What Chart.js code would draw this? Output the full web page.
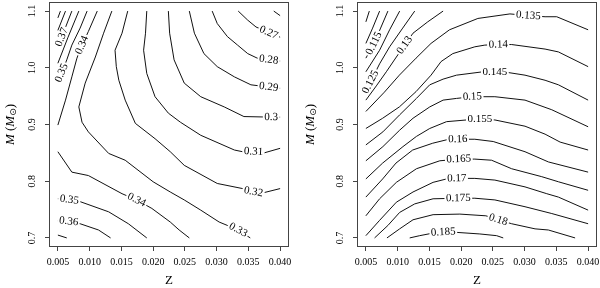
<!DOCTYPE html>
<html>
<head>
<meta charset="utf-8">
<script src="https://cdn.jsdelivr.net/npm/chart.js@4.4.1/dist/chart.umd.min.js"></script>
<style>
  html, body { margin: 0; padding: 0; background: #fff; overflow: hidden; }
  #wrap { position: relative; width: 600px; height: 288px; overflow: hidden; }
  canvas { position: absolute; top: 0; }
  #left { left: 0; }
  #right { left: 300px; }
</style>
</head>
<body>
<div id="wrap">
  <canvas id="left" width="320" height="288"></canvas>
  <canvas id="right" width="320" height="288"></canvas>
</div>
<script>
const X_TICKS = [0.005, 0.010, 0.015, 0.020, 0.025, 0.030, 0.035, 0.040];
const Y_TICKS = [0.7, 0.8, 0.9, 1.0, 1.1];
const X_RANGE = [0.0036, 0.0414];
const Y_RANGE = [0.684, 1.116];

// left panel contours, [Z, M] vertices
const L26 = [[0.0390, 1.100], [0.0400, 1.092]];
const L27 = [[0.0334, 1.100], [0.0349, 1.084], [0.0362, 1.072], [0.0382, 1.062], [0.0400, 1.054]];
const L28 = [[0.0293, 1.100], [0.0301, 1.078], [0.0317, 1.055], [0.0333, 1.040], [0.0349, 1.025], [0.0364, 1.017], [0.0382, 1.014], [0.0400, 1.012]];
const L29 = [[0.0257, 1.100], [0.0265, 1.061], [0.0280, 1.025], [0.0301, 1.002], [0.0328, 0.984], [0.0354, 0.970], [0.0382, 0.966], [0.0400, 0.964]];
const L30 = [[0.0224, 1.100], [0.0226, 1.061], [0.0233, 1.014], [0.0249, 0.973], [0.0275, 0.949], [0.0312, 0.931], [0.0343, 0.914], [0.0386, 0.913], [0.0400, 0.913]];
const L31 = [[0.0190, 1.100], [0.0188, 1.061], [0.0185, 1.031], [0.0190, 0.990], [0.0203, 0.949], [0.0224, 0.920], [0.0243, 0.904], [0.0275, 0.881], [0.0328, 0.855], [0.0341, 0.852], [0.0358, 0.852], [0.0375, 0.850], [0.0400, 0.858]];
const L32 = [[0.0160, 1.100], [0.0151, 1.061], [0.0140, 1.031], [0.0142, 1.002], [0.0146, 0.978], [0.0156, 0.943], [0.0172, 0.902], [0.0203, 0.875], [0.0227, 0.852], [0.0249, 0.828], [0.0301, 0.796], [0.0341, 0.787], [0.0358, 0.781], [0.0375, 0.780], [0.0400, 0.787]];
const L33 = [[0.0135, 1.100], [0.0122, 1.061], [0.0109, 1.019], [0.0093, 0.973], [0.0083, 0.931], [0.0088, 0.904], [0.0098, 0.887], [0.0130, 0.849], [0.0156, 0.837], [0.0200, 0.799], [0.0227, 0.781], [0.0249, 0.767], [0.0275, 0.749], [0.0304, 0.728], [0.0317, 0.722], [0.0334, 0.714], [0.0353, 0.700]];
const L34A = [[0.0112, 1.100], [0.0098, 1.064], [0.0088, 1.040], [0.0080, 1.017], [0.0072, 0.984], [0.0062, 0.943], [0.0050, 0.899]];
const L34B = [[0.0050, 0.852], [0.0072, 0.816], [0.0098, 0.810], [0.0151, 0.778], [0.0174, 0.767], [0.0198, 0.752], [0.0227, 0.728], [0.0241, 0.714], [0.0257, 0.700]];
const L35A = [[0.0096, 1.100], [0.0085, 1.070], [0.0072, 1.040], [0.0064, 1.014], [0.0056, 0.991], [0.0050, 0.975]];
const L35B = [[0.0050, 0.769], [0.0068, 0.767], [0.0085, 0.764], [0.0130, 0.746], [0.0161, 0.725], [0.0190, 0.700]];
const L36A = [[0.0083, 1.100], [0.0066, 1.054], [0.0050, 1.008]];
const L36B = [[0.0050, 0.730], [0.0067, 0.729], [0.0085, 0.725], [0.0114, 0.714], [0.0133, 0.700]];
const L37A = [[0.0072, 1.100], [0.0056, 1.054], [0.0050, 1.037]];
const L37B = [[0.0050, 0.705], [0.0064, 0.700]];
const L38 = [[0.0062, 1.100], [0.0050, 1.066]];
const L39 = [[0.0054, 1.100], [0.0050, 1.088]];

// right panel contours
const R105 = [[0.00554, 1.100], [0.0050, 1.081]];
const R110 = [[0.00716, 1.100], [0.00606, 1.070], [0.0050, 1.043]];
const R115 = [[0.00847, 1.100], [0.00732, 1.070], [0.00629, 1.043], [0.0050, 1.017]];
const R120 = [[0.01032, 1.100], [0.00874, 1.067], [0.00716, 1.031], [0.0050, 0.993]];
const R125 = [[0.01269, 1.100], [0.0108, 1.070], [0.00874, 1.037], [0.00716, 1.007], [0.00574, 0.975], [0.0050, 0.959]];
const R130 = [[0.01716, 1.100], [0.01474, 1.081], [0.01242, 1.061], [0.01111, 1.040], [0.0098, 1.019], [0.00822, 0.993], [0.00664, 0.968], [0.0050, 0.943]];
const R135 = [[0.040, 1.067], [0.03506, 1.090], [0.03322, 1.090], [0.03058, 1.092], [0.02769, 1.095], [0.02264, 1.087], [0.01817, 1.067], [0.01526, 1.043], [0.0129, 1.017], [0.01027, 0.987], [0.00791, 0.957], [0.0050, 0.923]];
const R140 = [[0.040, 1.002], [0.03532, 1.028], [0.03322, 1.033], [0.02796, 1.041], [0.02584, 1.041], [0.02374, 1.040], [0.02216, 1.037], [0.01869, 1.025], [0.01684, 1.011], [0.01526, 0.987], [0.0129, 0.958], [0.01027, 0.931], [0.00764, 0.911], [0.0050, 0.893]];
const R145 = [[0.040, 0.943], [0.03532, 0.970], [0.03322, 0.978], [0.03006, 0.987], [0.02663, 0.993], [0.02532, 0.993], [0.02347, 0.993], [0.01927, 0.987], [0.01716, 0.980], [0.01506, 0.970], [0.01296, 0.946], [0.01032, 0.917], [0.00768, 0.887], [0.0050, 0.864]];
const R150 = [[0.040, 0.896], [0.03428, 0.926], [0.03006, 0.943], [0.02532, 0.949], [0.02177, 0.949], [0.01927, 0.946], [0.01716, 0.943], [0.01506, 0.931], [0.01242, 0.911], [0.01032, 0.890], [0.00768, 0.861], [0.0050, 0.836]];
const R155 = [[0.040, 0.855], [0.03559, 0.869], [0.03322, 0.883], [0.03006, 0.897], [0.02532, 0.908], [0.02295, 0.909], [0.02085, 0.908], [0.0177, 0.905], [0.01506, 0.893], [0.01296, 0.879], [0.01084, 0.861], [0.00764, 0.832], [0.0050, 0.804]];
const R160 = [[0.040, 0.816], [0.03374, 0.834], [0.03006, 0.852], [0.02505, 0.870], [0.02216, 0.874], [0.01948, 0.874], [0.0177, 0.873], [0.01553, 0.867], [0.01237, 0.855], [0.00974, 0.832], [0.00764, 0.804], [0.0050, 0.772]];
const R165 = [[0.040, 0.784], [0.03532, 0.799], [0.0327, 0.808], [0.02796, 0.822], [0.0248, 0.837], [0.02216, 0.839], [0.01964, 0.839], [0.01664, 0.836], [0.01296, 0.822], [0.0098, 0.798], [0.00716, 0.769], [0.0050, 0.739]];
const R170 = [[0.040, 0.749], [0.03532, 0.772], [0.03349, 0.778], [0.03006, 0.790], [0.02532, 0.802], [0.02216, 0.805], [0.01932, 0.805], [0.0177, 0.804], [0.01558, 0.798], [0.01242, 0.781], [0.0098, 0.763], [0.00716, 0.731], [0.0050, 0.704]];
const R175 = [[0.040, 0.725], [0.03428, 0.743], [0.03006, 0.755], [0.02532, 0.767], [0.02216, 0.770], [0.01956, 0.770], [0.01558, 0.769], [0.01269, 0.760], [0.01032, 0.745], [0.00847, 0.722], [0.00637, 0.700]];
const R180 = [[0.03795, 0.700], [0.03374, 0.714], [0.03164, 0.716], [0.02796, 0.725], [0.02584, 0.732], [0.0239, 0.739], [0.0198, 0.742], [0.01558, 0.741], [0.01242, 0.732], [0.01032, 0.716], [0.00832, 0.700]];
const R185 = [[0.0119, 0.700], [0.01348, 0.704], [0.01533, 0.708], [0.01719, 0.710], [0.01901, 0.710], [0.02295, 0.707], [0.02559, 0.704], [0.02663, 0.700]];

const LEFT_LINES = [
  { level: "0.26", pts: L26 },
  { level: "0.27", pts: L27, at: 3 },
  { level: "0.28", pts: L28, at: 6 },
  { level: "0.29", pts: L29, at: 6 },
  { level: "0.3", pts: L30, at: 7 },
  { level: "0.31", pts: L31, at: 10 },
  { level: "0.32", pts: L32, at: 12 },
  { level: "0.33", pts: L33, at: 15 },
  { level: "0.34", pts: L34A, at: 2 },
  { level: "0.34", pts: L34B, at: 4 },
  { level: "0.35", pts: L35A, at: 4 },
  { level: "0.35", pts: L35B, at: 1 },
  { level: "0.36", pts: L36A },
  { level: "0.36", pts: L36B, at: 1 },
  { level: "0.37", pts: L37A, at: 1 },
  { level: "0.37", pts: L37B },
  { level: "0.38", pts: L38 },
  { level: "0.39", pts: L39 },
];

const RIGHT_LINES = [
  { level: "0.105", pts: R105 },
  { level: "0.11", pts: R110 },
  { level: "0.115", pts: R115, at: 2 },
  { level: "0.12", pts: R120 },
  { level: "0.125", pts: R125, at: 4 },
  { level: "0.13", pts: R130, at: 3 },
  { level: "0.135", pts: R135, at: 3 },
  { level: "0.14", pts: R140, at: 4 },
  { level: "0.145", pts: R145, at: 5 },
  { level: "0.15", pts: R150, at: 4 },
  { level: "0.155", pts: R155, at: 5 },
  { level: "0.16", pts: R160, at: 5 },
  { level: "0.165", pts: R165, at: 6 },
  { level: "0.17", pts: R170, at: 6 },
  { level: "0.175", pts: R175, at: 5 },
  { level: "0.18", pts: R180, at: 4 },
  { level: "0.185", pts: R185, at: 3 },
];

const SERIF = "'Liberation Serif', 'DejaVu Serif', serif";
const LABEL_FONT = "11px " + SERIF;

function labelSpot(chart, line) {
  const xs = chart.scales.x, ys = chart.scales.y;
  const p = line.pts.map(([z, m]) => [xs.getPixelForValue(z), ys.getPixelForValue(m)]);
  const i = line.at;
  const a = p[Math.max(i - 1, 0)];
  const b = p[Math.min(i + 1, p.length - 1)];
  let ang = Math.atan2(b[1] - a[1], b[0] - a[0]);
  if (ang > Math.PI / 2) ang -= Math.PI;
  if (ang < -Math.PI / 2) ang += Math.PI;
  return { x: p[i][0], y: p[i][1], ang };
}

function drawYTitle(ctx, x, y) {
  const parts = [
    { t: "M", f: "italic 13px " + SERIF, dy: 0 },
    { t: " (", f: "13px " + SERIF, dy: 0 },
    { t: "M", f: "italic 13px " + SERIF, dy: 0 },
    { t: "\u2299", f: "9px 'DejaVu Sans', sans-serif", dy: 3 },
    { t: ")", f: "13px " + SERIF, dy: 0 },
  ];
  let total = 0;
  parts.forEach((p) => { ctx.font = p.f; p.w = ctx.measureText(p.t).width; total += p.w; });
  ctx.save();
  ctx.translate(x, y);
  ctx.rotate(-Math.PI / 2);
  ctx.textAlign = "left";
  ctx.textBaseline = "middle";
  let cx = -total / 2;
  parts.forEach((p) => { ctx.font = p.f; ctx.fillText(p.t, cx, p.dy); cx += p.w; });
  ctx.restore();
}

function makePanel(canvasId, lines, yWidth, padRight) {
  const panelPlugin = {
    id: "panel" + canvasId,
    beforeDatasetDraw(chart, args) {
      const ctx = chart.ctx;
      ctx.save();
      const line = lines[args.index];
      if (line.at === undefined) return;
      // cut a gap in this line only, where its label goes
      const g = labelSpot(chart, line);
      ctx.font = LABEL_FONT;
      const w = ctx.measureText(line.level).width / 2 + 1.5;
      const h = 4.5;
      const c = Math.cos(g.ang), s = Math.sin(g.ang);
      ctx.beginPath();
      ctx.rect(0, 0, chart.width, chart.height);
      ctx.moveTo(g.x - w * c + h * s, g.y - w * s - h * c);
      ctx.lineTo(g.x + w * c + h * s, g.y + w * s - h * c);
      ctx.lineTo(g.x + w * c - h * s, g.y + w * s + h * c);
      ctx.lineTo(g.x - w * c - h * s, g.y - w * s + h * c);
      ctx.closePath();
      ctx.clip("evenodd");
    },
    afterDatasetDraw(chart) {
      chart.ctx.restore();
    },
    afterDraw(chart) {
      const ctx = chart.ctx;
      const area = chart.chartArea;
      const ys = chart.scales.y;
      ctx.save();
      ctx.strokeStyle = "#444";
      ctx.lineWidth = 1;
      ctx.strokeRect(area.left + 0.5, area.top + 0.5, area.right - area.left - 1, area.bottom - area.top - 1);

      ctx.fillStyle = "#000";
      ctx.font = LABEL_FONT;
      ctx.textAlign = "center";
      ctx.textBaseline = "middle";
      lines.forEach((line) => {
        if (line.at === undefined) return;
        const g = labelSpot(chart, line);
        ctx.save();
        ctx.translate(g.x, g.y);
        ctx.rotate(g.ang);
        ctx.fillText(line.level, 0, 0);
        ctx.restore();
      });

      ctx.font = "10px " + SERIF;
      Y_TICKS.forEach((v) => {
        ctx.save();
        ctx.translate(area.left - 17, ys.getPixelForValue(v));
        ctx.rotate(-Math.PI / 2);
        ctx.fillText(v.toFixed(1), 0, 0);
        ctx.restore();
      });

      ctx.font = "13px " + SERIF;
      ctx.fillText("Z", (area.left + area.right) / 2, 281);
      drawYTitle(ctx, 11, (area.top + area.bottom) / 2);
      ctx.restore();
    },
  };

  return new Chart(document.getElementById(canvasId), {
    type: "scatter",
    data: {
      datasets: lines.map((line) => ({
        data: line.pts.map(([z, m]) => ({ x: z, y: m })),
        showLine: true,
        borderColor: "#111",
        borderWidth: 1,
        pointRadius: 0,
        fill: false,
        tension: 0,
      })),
    },
    options: {
      responsive: false,
      animation: false,
      devicePixelRatio: 1,
      events: [],
      layout: { padding: { top: 2, right: padRight, left: 0, bottom: 0 } },
      plugins: { legend: { display: false }, tooltip: { enabled: false } },
      scales: {
        x: {
          type: "linear",
          min: X_RANGE[0],
          max: X_RANGE[1],
          afterBuildTicks: (axis) => { axis.ticks = X_TICKS.map((v) => ({ value: v })); },
          afterFit: (axis) => { axis.height = 41; },
          grid: { drawOnChartArea: false, tickLength: 4, color: "#444" },
          border: { display: false },
          ticks: {
            color: "#000",
            padding: 5,
            maxRotation: 0,
            autoSkip: false,
            font: { family: SERIF, size: 10 },
            callback: (v) => Number(v).toFixed(3),
          },
        },
        y: {
          type: "linear",
          min: Y_RANGE[0],
          max: Y_RANGE[1],
          afterBuildTicks: (axis) => { axis.ticks = Y_TICKS.map((v) => ({ value: v })); },
          afterFit: (axis) => { axis.width = yWidth; },
          grid: { drawOnChartArea: false, tickLength: 4, color: "#444" },
          border: { display: false },
          ticks: { display: false },
        },
      },
    },
    plugins: [panelPlugin],
  });
}

makePanel("left", LEFT_LINES, 49, 31);
makePanel("right", RIGHT_LINES, 57, 23);
</script>
</body>
</html>
